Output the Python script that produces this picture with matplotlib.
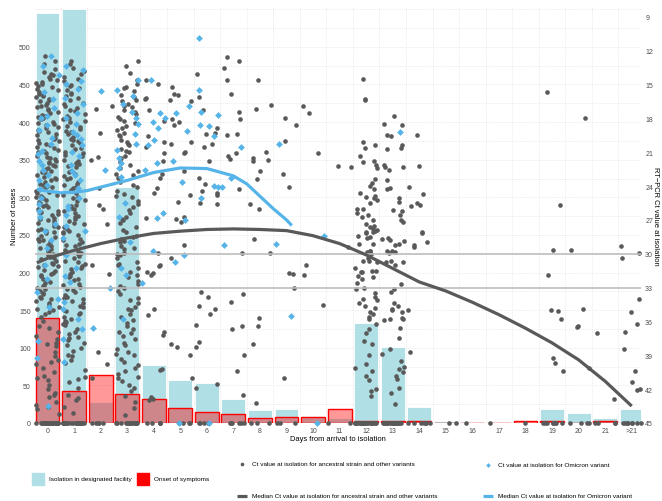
import numpy as np
import matplotlib
matplotlib.use("Agg")
import matplotlib.pyplot as plt
from matplotlib.patches import Rectangle

plt.rcParams['font.family'] = ['Liberation Sans', 'DejaVu Sans']

# ---------------- data ----------------
day_labels = [str(d) for d in range(22)] + [">21"]
isolation_cases = [545, 551, 28, 314, 77.5, 57, 53, 31.5, 17, 18.5, 9, 6,
                   133, 101, 21, 3, 1.5, 1.5, 1, 18.5, 13.5, 6, 18.5]
onset_cases = [139, 42, 64, 38.5, 31.5, 20, 14, 11.5, 6, 8, 8, 18,
               2.5, 2, 2, 0, 0, 0, 3, 2, 0, 2, 0]

# Ct values of individual cases (ancestral strain and other variants), by day
anc_d0 = [12.5, 12.9, 13.2, 13.6, 13.9,
          14.1, 14.3, 14.6, 14.8, 14.2, 14.9, 14.5,
          15.0, 15.2, 15.5, 15.7, 15.9, 15.4, 15.1, 15.8,
          16.0, 16.3, 16.5, 16.8, 16.1, 16.6, 16.9, 16.4,
          17.2, 17.4, 17.7, 17.9, 17.0, 17.5, 17.3, 17.8,
          18.1, 18.3, 18.6, 18.8, 18.0, 18.4, 18.9, 18.5,
          19.2, 19.4, 19.7, 19.0, 19.9, 19.5, 19.1, 19.8,
          20.0, 20.3, 20.6, 20.8, 20.2, 20.5, 20.9, 20.4,
          21.1, 21.3, 21.6, 21.8, 21.0, 21.5, 21.9, 21.4,
          22.2, 22.4, 22.7, 22.0, 22.9, 22.5, 22.1, 22.8,
          23.0, 23.3, 23.6, 23.8, 23.2, 23.5, 23.9, 23.4,
          24.1, 24.3, 24.6, 24.8, 24.0, 24.5, 24.9, 24.4,
          25.2, 25.4, 25.7, 25.0, 25.9, 25.5, 25.1, 25.8,
          26.0, 26.3, 26.6, 26.8, 26.2, 26.5, 26.9, 26.4,
          27.1, 27.3, 27.6, 27.8, 27.0, 27.5, 27.9, 27.4,
          28.2, 28.4, 28.7, 28.0, 28.9, 28.5, 28.1, 28.8,
          29.0, 29.3, 29.6, 29.8, 29.2, 29.5, 29.9, 29.4,
          30.1, 30.3, 30.6, 30.8, 30.0, 30.5, 30.9, 30.4,
          31.2, 31.4, 31.7, 31.0, 31.9, 31.5, 31.1, 31.8,
          32.0, 32.3, 32.6, 32.8, 32.2, 32.5, 32.9,
          33.1, 33.3, 33.6, 33.8, 33.0, 33.5, 33.9,
          34.2, 34.4, 34.7, 34.0, 34.9, 34.5,
          35.0, 35.3, 35.6, 35.2,
          36.0, 36.4, 36.9, 37.3, 37.6, 38.0, 38.2, 38.7, 39.1, 39.4, 39.8,
          40.1, 40.5, 40.8, 41.2, 41.6, 42.0, 42.3, 42.7, 43.1, 43.4, 43.8,
          44.2, 36.6, 37.9, 39.6, 41.0, 42.5, 43.6] + [45] * 22
anc_d1 = [12.9, 13.2, 13.5, 13.8, 14.05, 14.35, 14.65, 14.95, 14.5,
          15.15, 15.45, 15.75, 15.05, 15.85, 15.3,
          16.05, 16.35, 16.65, 16.95, 16.2, 16.75,
          17.1, 17.35, 17.65, 17.95, 17.25, 17.8,
          18.05, 18.35, 18.65, 18.95, 18.2, 18.75,
          19.1, 19.35, 19.65, 19.95, 19.25, 19.8,
          20.05, 20.35, 20.65, 20.95, 20.2, 20.75,
          21.1, 21.35, 21.65, 21.95, 21.25, 21.8,
          22.05, 22.35, 22.65, 22.95, 22.2, 22.75,
          23.1, 23.35, 23.65, 23.95, 23.25, 23.8,
          24.05, 24.35, 24.65, 24.95, 24.2, 24.75,
          25.1, 25.35, 25.65, 25.95, 25.25, 25.8,
          26.05, 26.35, 26.65, 26.95, 26.2, 26.75,
          27.1, 27.35, 27.65, 27.95, 27.25, 27.8,
          28.05, 28.35, 28.65, 28.95, 28.2, 28.75,
          29.1, 29.35, 29.65, 29.95, 29.25, 29.8,
          30.05, 30.35, 30.65, 30.95, 30.2, 30.75,
          31.1, 31.35, 31.65, 31.95, 31.25, 31.8,
          32.05, 32.35, 32.65, 32.95, 32.2, 32.75,
          33.1, 33.35, 33.65, 33.95, 33.25, 33.8,
          34.05, 34.35, 34.65, 34.95, 34.2, 34.75,
          35.1, 35.35, 35.65, 35.95, 35.25, 35.8,
          36.05, 36.35, 36.65, 36.95, 36.2,
          37.1, 37.35, 37.65, 37.95, 37.5,
          38.05, 38.35, 38.65, 38.95,
          39.1, 39.4, 39.7,
          40.3, 40.9, 41.4, 41.9, 42.5, 43.0, 43.6, 44.1, 41.1, 42.8] + [45] * 20
anc_d2 = [16.9, 17.2, 19.3, 21.4, 21.7, 24.2, 25.7, 26.0, 27.4, 31.0,
          31.8, 38.7, 39.8, 41.0] + [45] * 5
anc_d3 = [12.9, 13.4, 14.0, 14.6,
          15.0, 15.3, 15.6, 15.9, 15.2,
          16.1, 16.4, 16.7, 16.9, 16.5,
          17.0, 17.3, 17.6, 17.9, 17.4,
          18.1, 18.4, 18.7, 18.9, 18.2,
          19.0, 19.3, 19.6, 19.9, 19.5,
          20.1, 20.4, 20.7, 20.9, 20.3,
          21.0, 21.3, 21.6, 21.9, 21.5,
          22.1, 22.4, 22.7, 22.9,
          23.0, 23.3, 23.6, 23.9,
          24.1, 24.4, 24.7, 24.9,
          25.0, 25.3, 25.6, 25.9,
          26.1, 26.4, 26.7, 26.9,
          27.0, 27.3, 27.6, 27.9,
          28.1, 28.4, 28.7, 28.9, 28.5,
          29.0, 29.3, 29.6, 29.9, 29.5,
          30.1, 30.4, 30.7, 30.9, 30.0,
          31.0, 31.3, 31.6, 31.9,
          32.1, 32.4, 32.7, 32.9,
          33.0, 33.3, 33.6, 33.9,
          34.1, 34.4, 34.7, 34.9,
          35.0, 35.3, 35.6, 35.9,
          36.1, 36.4, 36.7, 36.9,
          37.0, 37.3, 37.6, 37.9,
          38.1, 38.4, 38.7, 38.9,
          39.0, 39.3, 39.6, 39.9,
          40.1, 40.4, 40.7, 40.9,
          41.0, 41.3, 41.6, 41.9,
          42.2, 42.6, 43.1, 43.7, 44.3] + [45] * 16
anc_d4 = [14.6, 15.0, 16.2, 16.3, 18.2, 17.3, 20.1, 19.6, 20.5, 21.1, 21.8,
          22.9, 23.3, 24.2, 24.6, 26.8, 29.9, 31.0, 31.1, 31.6, 31.7, 31.9,
          34.9, 35.4, 36.9, 37.2, 40.2, 40.3, 42.7, 42.9, 43.0] + [45] * 5
anc_d5 = [15.2, 16.4, 15.8, 16.5, 15.9, 18.3, 18.1, 18.6, 20.1, 20.3, 21.0,
          21.1, 22.7, 24.8, 25.4, 26.7, 26.9, 27.2, 29.2, 30.4, 38.3, 39.0,
          38.0, 41.0] + [45] * 4
anc_d6 = [14.1, 16.1, 17.3, 18.9, 19.3, 19.4, 20.3, 20.5, 21.8, 23.3, 23.8,
          24.4, 24.6, 24.8, 25.5, 25.6, 33.4, 33.8, 34.9, 35.3, 34.6, 36.3,
          37.8, 38.3, 41.9, 41.5] + [45] * 4
anc_d7 = [12.9, 12.6, 13.5, 14.6, 15.8, 17.4, 18.1, 19.4, 19.5, 21.3, 21.6,
          21.1, 24.3, 29.9, 33.6, 34.3, 36.7, 36.4, 39.0, 40.4, 42.5] + [45] * 6
anc_d8 = [14.6, 17.2, 16.8, 21.8, 21.5, 21.7, 21.0, 22.7, 23.4, 26.0, 25.6,
          28.7, 29.9, 35.7, 36.4, 38.0, 43.2] + [45] * 3
anc_d9 = [18.0, 18.6, 20.0, 22.9, 24.1, 31.7, 31.8, 33.0, 41.0] + [45] * 3
anc_d10 = [17.5, 16.9, 21.1, 31.9, 34.5, 31.0]
anc_d11 = [22.2, 22.3, 29.4] + [45] * 2
anc_d12 = [14.5, 16.3, 16.4, 20.1, 20.4, 20.6, 21.3, 21.8, 21.9, 22.1, 22.4,
           23.4, 23.7, 24.0, 24.3, 24.6, 24.9, 24.95, 25.2, 25.1, 25.5, 26.0,
           26.05, 26.4, 26.7, 26.6, 27.0, 27.5, 27.4, 27.6, 27.8, 28.0, 28.05,
           28.5, 28.6, 28.4, 28.1, 28.15, 27.9, 29.1, 29.15, 29.8, 30.0, 29.85,
           29.75, 30.7, 30.6, 30.65, 30.4, 31.5, 31.6, 31.55, 31.65, 31.3, 32.1,
           32.0, 32.2, 32.6, 33.1, 33.0, 33.5, 33.8, 34.0, 34.1, 34.4, 34.6,
           34.8, 35.2, 35.3, 35.6, 35.8, 36.2, 36.7, 37.0, 37.7, 38.0, 39.0,
           39.8, 40.1, 40.4, 40.8, 41.2, 42.0, 42.2, 42.6] + [45] * 25
anc_d13 = [17.8, 18.6, 18.5, 19.5, 19.55, 20.4, 20.6, 20.7, 22.3, 22.6, 22.35,
           22.1, 23.5, 24.2, 24.3, 25.1, 25.4, 26.2, 26.1, 26.6, 27.0, 27.2,
           28.6, 28.8, 28.9, 28.65, 29.1, 29.2, 29.8, 29.85, 29.75, 29.9, 30.6,
           30.7, 30.75, 31.0, 33.1, 32.7, 33.4, 34.4, 34.6, 34.9, 35.2, 35.0,
           35.8, 35.9, 35.7, 35.75, 36.6, 37.5, 38.4, 38.9, 39.5, 40.0, 40.2,
           40.5, 40.8, 41.1, 41.9, 42.3, 43.3] + [45] * 20
anc_d14 = [19.5, 22.2, 24.1, 24.7, 25.5, 25.8, 25.7, 28.1, 28.15, 29.0, 29.2,
           29.4, 35.0, 38.7] + [45] * 7
anc_d15 = [45] * 2
anc_d16 = [45]
anc_d17 = [45]
anc_d18 = [45]
anc_d19 = [15.7, 25.7, 29.7, 31.9, 35.0, 35.1, 35.8, 39.2, 39.7, 40.4] + [45] * 8
anc_d20 = [18.0, 29.7, 34.9, 36.4, 36.5, 40.1] + [45] * 4
anc_d21 = [37.0, 42.9] + [45] * 4
anc_d22 = [29.3, 29.9, 30.4, 34.0, 35.2, 36.2, 36.9, 38.4, 40.4, 41.4, 42.0,
           42.1] + [45] * 8

# Ct values for Omicron variant, by day
omi_d0 = [12.5, 13.4, 14.2, 15.7, 16.3, 17.1, 17.8, 18.0, 18.6, 19.0, 19.7,
          20.3, 20.9, 21.2, 21.8, 22.1, 22.6, 23.0, 23.5, 23.9, 24.3, 25.1,
          25.6, 26.2, 26.7, 27.4, 28.0, 28.8, 29.5, 31.0, 32.2, 33.4, 34.0,
          34.7, 37.7, 39.2, 43.5]
omi_d1 = [13.4, 13.7, 14.7, 15.4, 16.2, 16.7, 17.5, 18.5, 19.2, 19.5, 19.8,
          20.4, 21.3, 22.1, 22.7, 23.5, 24.2, 25.1, 25.8, 26.6, 27.5, 28.0,
          28.6, 30.1, 31.3, 32.0, 32.5, 34.3, 34.9, 35.8, 36.7, 37.6, 39.6,
          21.0, 23.0, 26.0, 18.0, 15.0]
omi_d2 = [15.6, 22.6, 33.0, 36.6]
omi_d3 = [14.6, 15.5, 16.0, 16.7, 17.4, 18.0, 18.5, 19.4, 20.3, 20.8, 21.5,
          22.0, 22.4, 23.2, 25.5, 26.7, 29.0, 31.3, 31.9, 35.8]
omi_d4 = [14.6, 17.5, 18.0, 18.9, 20.4, 19.9, 18.3, 22.0, 22.6, 26.8, 26.4,
          29.8, 32.6]
omi_d5 = [16.9, 17.5, 19.1, 21.8, 23.6, 27.0, 30.7, 30.1, 45]
omi_d6 = [10.9, 15.5, 17.7, 17.4, 18.7, 18.6, 19.6, 24.0, 24.1, 25.1, 45]
omi_d7 = [20.5, 24.1, 23.3, 29.2]
omi_d9 = [20.3, 29.1, 35.5]
omi_d10 = [28.4, 45]
omi_d13 = [19.2]

# Median Ct curves
med_anc_day = [-0.4, 0, 1, 2, 3, 4, 5, 6, 7, 8, 9, 10, 11, 12, 13, 14, 15,
               16, 17, 18, 19, 20, 21, 22]
med_anc_ct = [30.8, 30.4, 29.7, 29.1, 28.6, 28.2, 28.0, 27.85, 27.8, 27.85,
              27.95, 28.4, 29.1, 30.1, 31.3, 32.5, 33.3, 34.3, 35.4, 36.6,
              37.9, 39.4, 41.3, 43.5]
med_omi_day = [-0.4, 0, 0.5, 1, 1.5, 2, 3, 4, 5, 6, 7, 7.5, 8, 8.5, 9, 9.2]
med_omi_ct = [24.3, 24.45, 24.6, 24.55, 24.4, 24.1, 23.5, 22.8, 22.4, 22.45,
              23.1, 23.8, 24.9, 26.0, 27.0, 27.5]

ref_ct = [30, 33]

anc_by_day = [anc_d0, anc_d1, anc_d2, anc_d3, anc_d4, anc_d5, anc_d6, anc_d7,
              anc_d8, anc_d9, anc_d10, anc_d11, anc_d12, anc_d13, anc_d14,
              anc_d15, anc_d16, anc_d17, anc_d18, anc_d19, anc_d20, anc_d21,
              anc_d22]
omi_by_day = {0: omi_d0, 1: omi_d1, 2: omi_d2, 3: omi_d3, 4: omi_d4, 5: omi_d5,
              6: omi_d6, 7: omi_d7, 9: omi_d9, 10: omi_d10, 13: omi_d13}

# ---------------- style ----------------
W, H = 662, 502
C_BLUEBAR = "#B0E0E6"
C_GREY = "#595959"
C_OMI = "#56B4E9"
TICK_C = "#4D4D4D"
YMAX = 553
CT_TOP = 45 - YMAX / 15.0

fig = plt.figure(figsize=(W / 100, H / 100), dpi=100)
px_l, px_r, px_t, px_b = 35, 641, 8, 424
ax = fig.add_axes([px_l / W, 1 - px_b / H, (px_r - px_l) / W, (px_b - px_t) / H])
ax.set_xlim(-0.47, 22.35)
ax.set_ylim(0, YMAX)

# grid
for yv in np.arange(0, 551, 25):
    ax.axhline(yv, color="#E3E3E3", lw=0.6, ls=(0, (1, 1.5)), zorder=0)
for xv in np.arange(-0.5, 23, 1.0):
    ax.axvline(xv, color="#E3E3E3", lw=0.6, ls=(0, (1, 1.5)), zorder=0)

x = np.arange(len(day_labels))
ax.bar(x, isolation_cases, width=0.9, color=C_BLUEBAR, edgecolor="white",
       linewidth=0.6, zorder=1)
ax.bar(x, onset_cases, width=0.9, facecolor=(1, 0, 0, 0.4), edgecolor="red",
       linewidth=1.0, zorder=2)

ax.set_xticks(x)
ax.set_xticklabels(day_labels)
ax.set_yticks(np.arange(0, 501, 50))
ax.tick_params(length=0, labelsize=5, colors=TICK_C, pad=3)
for s in ax.spines.values():
    s.set_visible(False)

ax2 = ax.twinx()
ax2.set_ylim(45, CT_TOP)
ax2.set_yticks(np.arange(9, 46, 3))
ax2.tick_params(length=0, labelsize=5, colors=TICK_C, pad=3)
for s in ax2.spines.values():
    s.set_visible(False)

fig.text(338 / W, 1 - 440 / H, "Days from arrival to isolation", fontsize=5.4,
         ha="center", va="center")
fig.text(15 / W, 1 - 216 / H, "Number of cases", fontsize=5.4, rotation=90,
         ha="center", va="center")
fig.text(656 / W, 1 - 216 / H, "RT\u2212PCR Ct value at isolation", fontsize=5.4,
         rotation=270, ha="center", va="center")


def jitter(n, w, seed):
    # deterministic horizontal spread from an integer hash of the point index
    m = np.uint64(0xFFFFFFFF)
    h = (np.arange(n, dtype=np.uint64) + np.uint64(seed)) & m
    h ^= h >> np.uint64(16)
    h = (h * np.uint64(0x7FEB352D)) & m
    h ^= h >> np.uint64(15)
    h = (h * np.uint64(0x846CA68B)) & m
    h ^= h >> np.uint64(16)
    return (h.astype(float) / 4294967296.0 - 0.5) * w


for d, vals in enumerate(anc_by_day):
    v = np.array(vals, dtype=float)
    ax2.scatter(d + jitter(len(v), 0.86, d * 1000 + 1), v, s=11, color=C_GREY,
                lw=0, zorder=3, clip_on=False)
for d, vals in omi_by_day.items():
    v = np.array(vals, dtype=float)
    ax2.scatter(d + jitter(len(v), 0.86, d * 1000 + 50000), v, s=12,
                marker="D", color=C_OMI, lw=0, zorder=4, clip_on=False)

for r in ref_ct:
    ax2.axhline(r, color="#BDBDBD", lw=1.2, zorder=5)

ax2.plot(med_anc_day, med_anc_ct, color=C_GREY, lw=2.3, zorder=6,
         solid_capstyle="butt")
ax2.plot(med_omi_day, med_omi_ct, color=C_OMI, lw=2.3, zorder=6,
         solid_capstyle="butt")

# ---------------- legend (drawn in pixel coordinates) ----------------
lax = fig.add_axes([0, 0, 1, 1])
lax.set_xlim(0, W)
lax.set_ylim(H, 0)
lax.axis("off")
LFS = 4.6
lax.add_patch(Rectangle((32, 474), 12, 12, color=C_BLUEBAR))
lax.text(49, 480, "Isolation in designated facility", fontsize=LFS, va="center")
lax.add_patch(Rectangle((137, 474), 12, 12, color="red"))
lax.text(154, 480, "Onset of symptoms", fontsize=LFS, va="center")

lax.plot([242], [465], "o", ms=2.6, color=C_GREY, mew=0)
lax.text(252, 465, "Ct value at isolation for ancestral strain and other variants",
         fontsize=LFS, va="center")
lax.plot([488], [466], "D", ms=2.4, color=C_OMI, mew=0)
lax.text(498, 466, "Ct value at isolation for Omicron variant", fontsize=LFS,
         va="center")
lax.plot([237, 247], [497, 497], color=C_GREY, lw=2.3, solid_capstyle="butt")
lax.text(252, 497, "Median Ct value at isolation for ancestral strain and other variants",
         fontsize=LFS, va="center")
lax.plot([483, 493], [497, 497], color=C_OMI, lw=2.3, solid_capstyle="butt")
lax.text(498, 497, "Median Ct value at isolation for Omicron variant",
         fontsize=LFS, va="center")

fig.savefig("out.png", dpi=100)
